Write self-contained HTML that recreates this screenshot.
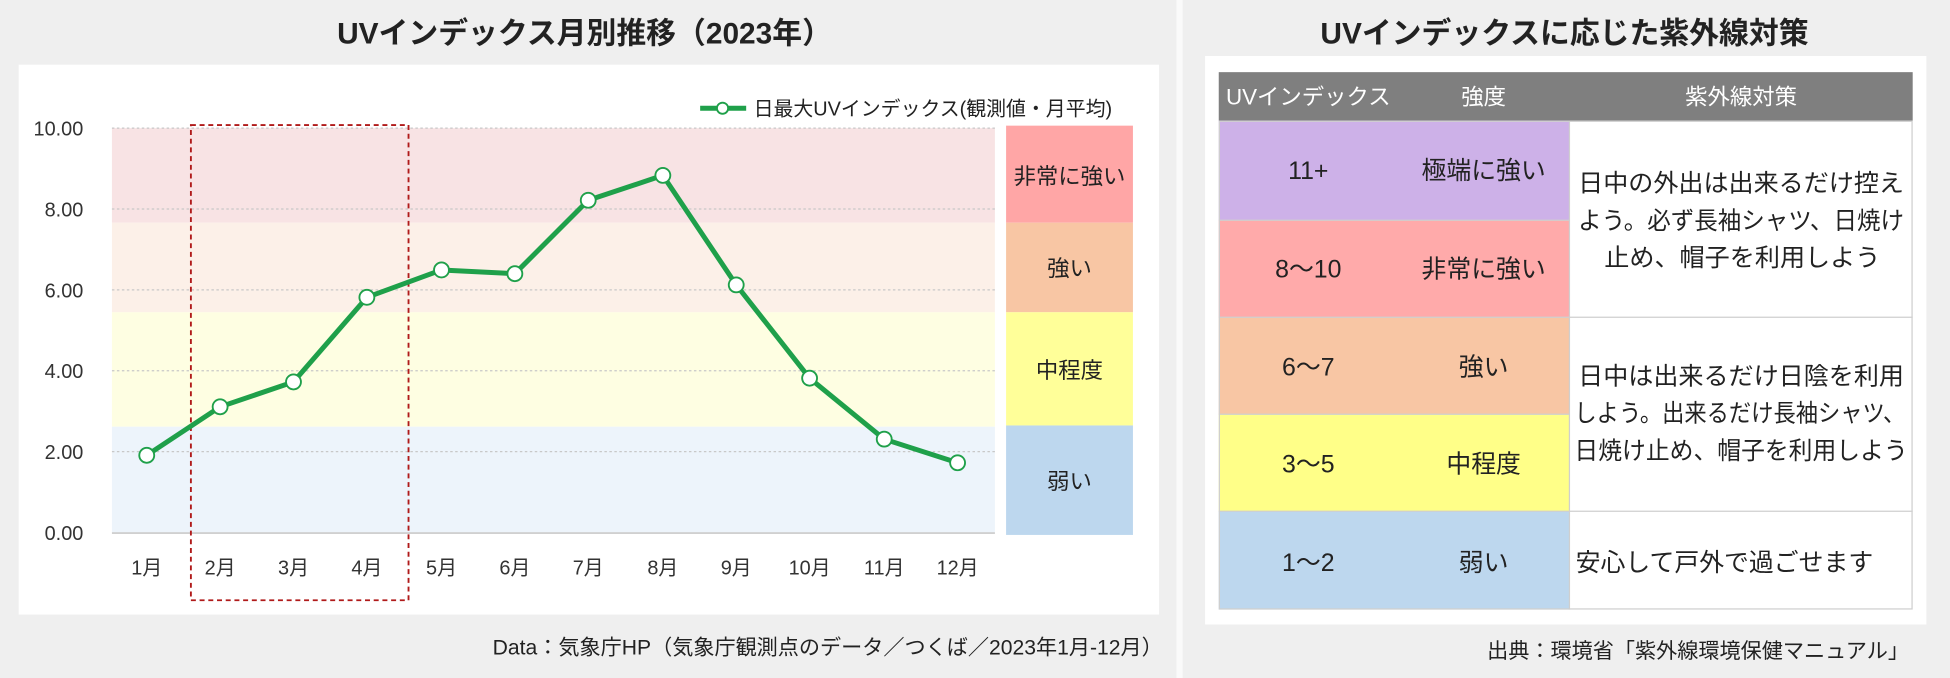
<!DOCTYPE html>
<html><head><meta charset="utf-8"><style>
html,body{margin:0;padding:0;background:#efefef;}
svg{display:block;font-family:"Liberation Sans","Noto Sans CJK JP",sans-serif;}
</style></head><body>
<svg width="1950" height="678" viewBox="0 0 1568 545" preserveAspectRatio="none" xmlns="http://www.w3.org/2000/svg">
<rect x="0" y="0" width="1568" height="545" fill="#efefef"/>
<rect x="946" y="0" width="5" height="545" fill="#fafafa"/>
<text x="470" y="35" font-size="24" font-weight="bold" text-anchor="middle" fill="#222">UVインデックス月別推移（2023年）</text>
<rect x="15" y="52" width="917" height="442" fill="#fff"/>
<rect x="90" y="103" width="710" height="76" fill="#f8e3e4"/>
<rect x="90" y="179" width="710" height="72" fill="#fcf0e8"/>
<rect x="90" y="251" width="710" height="92" fill="#fefee2"/>
<rect x="90" y="343" width="710" height="85" fill="#edf4fb"/>
<g stroke="#c8c8c8" stroke-width="1" stroke-dasharray="2,2">
<line x1="90" x2="800" y1="103" y2="103"/><line x1="90" x2="800" y1="168" y2="168"/>
<line x1="90" x2="800" y1="233" y2="233"/><line x1="90" x2="800" y1="298" y2="298"/>
<line x1="90" x2="800" y1="363" y2="363"/>
</g>
<line x1="90" x2="800" y1="428.5" y2="428.5" stroke="#d0d0d0" stroke-width="1.5"/>
<g font-size="16" fill="#333" text-anchor="end">
<text x="67" y="109">10.00</text><text x="67" y="174">8.00</text><text x="67" y="239">6.00</text>
<text x="67" y="304">4.00</text><text x="67" y="369">2.00</text><text x="67" y="434">0.00</text>
</g>
<g font-size="16" fill="#333" text-anchor="middle">
<text x="118" y="462">1月</text><text x="177" y="462">2月</text><text x="236" y="462">3月</text><text x="295" y="462">4月</text>
<text x="355" y="462">5月</text><text x="414" y="462">6月</text><text x="473" y="462">7月</text><text x="533" y="462">8月</text>
<text x="592" y="462">9月</text><text x="651" y="462">10月</text><text x="711" y="462">11月</text><text x="770" y="462">12月</text>
</g>
<rect x="809" y="101" width="102" height="78" fill="#ffa6a6"/>
<rect x="809" y="179" width="102" height="72" fill="#f8c6a4"/>
<rect x="809" y="251" width="102" height="91" fill="#ffff99"/>
<rect x="809" y="342" width="102" height="88" fill="#bdd7ee"/>
<g font-size="18" fill="#222" text-anchor="middle">
<text x="860" y="148">非常に強い</text><text x="860" y="222">強い</text>
<text x="860" y="304">中程度</text><text x="860" y="393">弱い</text>
</g>
<rect x="153.5" y="100.5" width="175" height="382" fill="none" stroke="#b01a1a" stroke-width="1.5" stroke-dasharray="4,3"/>
<line x1="563" x2="600" y1="87" y2="87" stroke="#1fa04a" stroke-width="4"/>
<circle cx="581" cy="87" r="4.5" fill="#fff" stroke="#1fa04a" stroke-width="1.5"/>
<text x="606" y="93" font-size="16" fill="#222">日最大UVインデックス(観測値・月平均)</text>
<polyline fill="none" stroke="#1fa04a" stroke-width="4" stroke-linejoin="round" points="118,366 177,327 236,307 295,239 355,217 414,220 473,161 533,141 592,229 651,304 711,353 770,372"/>
<g fill="#fff" stroke="#1fa04a" stroke-width="1.5">
<circle cx="118" cy="366" r="6"/><circle cx="177" cy="327" r="6"/><circle cx="236" cy="307" r="6"/><circle cx="295" cy="239" r="6"/>
<circle cx="355" cy="217" r="6"/><circle cx="414" cy="220" r="6"/><circle cx="473" cy="161" r="6"/><circle cx="533" cy="141" r="6"/>
<circle cx="592" cy="229" r="6"/><circle cx="651" cy="304" r="6"/><circle cx="711" cy="353" r="6"/><circle cx="770" cy="372" r="6"/>
</g>
<text x="935" y="526" font-size="17" fill="#222" text-anchor="end">Data：気象庁HP（気象庁観測点のデータ／つくば／2023年1月-12月）</text>
<text x="1258" y="35" font-size="24" font-weight="bold" text-anchor="middle" fill="#222">UVインデックスに応じた紫外線対策</text>
<rect x="969" y="45" width="580" height="457" fill="#fff"/>
<rect x="980" y="58" width="558" height="39" fill="#7f7f7f"/>
<g font-size="18" fill="#fff" text-anchor="middle">
<text x="1052" y="84">UVインデックス</text><text x="1193" y="84">強度</text><text x="1400" y="84">紫外線対策</text>
</g>
<rect x="980" y="97" width="282" height="80" fill="#cdb1e8"/>
<rect x="980" y="177" width="282" height="78" fill="#ffaaaa"/>
<rect x="980" y="255" width="282" height="78" fill="#f8c6a4"/>
<rect x="980" y="333" width="282" height="78" fill="#ffff88"/>
<rect x="980" y="411" width="282" height="79" fill="#bdd7ee"/>
<g stroke="#cfcfcf" stroke-width="1" fill="none">
<rect x="980.5" y="97.5" width="557" height="392"/>
<line x1="1262" x2="1262" y1="97" y2="490"/>
<line x1="980" x2="1538" y1="255" y2="255"/>
<line x1="980" x2="1538" y1="411" y2="411"/>
<line x1="980" x2="1262" y1="177" y2="177"/>
<line x1="980" x2="1262" y1="333" y2="333"/>
</g>
<g font-size="20" fill="#222" text-anchor="middle">
<text x="1052" y="144">11+</text><text x="1193" y="144">極端に強い</text>
<text x="1052" y="223">8～10</text><text x="1193" y="223">非常に強い</text>
<text x="1052" y="302">6～7</text><text x="1193" y="302">強い</text>
<text x="1052" y="380">3～5</text><text x="1193" y="380">中程度</text>
<text x="1052" y="459">1～2</text><text x="1193" y="459">弱い</text>
</g>
<g font-size="19.5" fill="#222" lengthAdjust="spacingAndGlyphs">
<text x="1269" y="154" textLength="262" lengthAdjust="spacingAndGlyphs">日中の外出は出来るだけ控え</text>
<text x="1269" y="184" textLength="262" lengthAdjust="spacingAndGlyphs">よう。必ず長袖シャツ、日焼け</text>
<text x="1290" y="214" textLength="222" lengthAdjust="spacingAndGlyphs">止め、帽子を利用しよう</text>
<text x="1269" y="309" textLength="262" lengthAdjust="spacingAndGlyphs">日中は出来るだけ日陰を利用</text>
<text x="1266" y="339" textLength="266" lengthAdjust="spacingAndGlyphs">しよう。出来るだけ長袖シャツ、</text>
<text x="1266" y="369" textLength="268" lengthAdjust="spacingAndGlyphs">日焼け止め、帽子を利用しよう</text>
</g>
<text x="1267" y="459" font-size="20" fill="#222">安心して戸外で過ごせます</text>
<text x="1535" y="529" font-size="17" fill="#222" text-anchor="end">出典：環境省「紫外線環境保健マニュアル」</text>
</svg>
</body></html>
